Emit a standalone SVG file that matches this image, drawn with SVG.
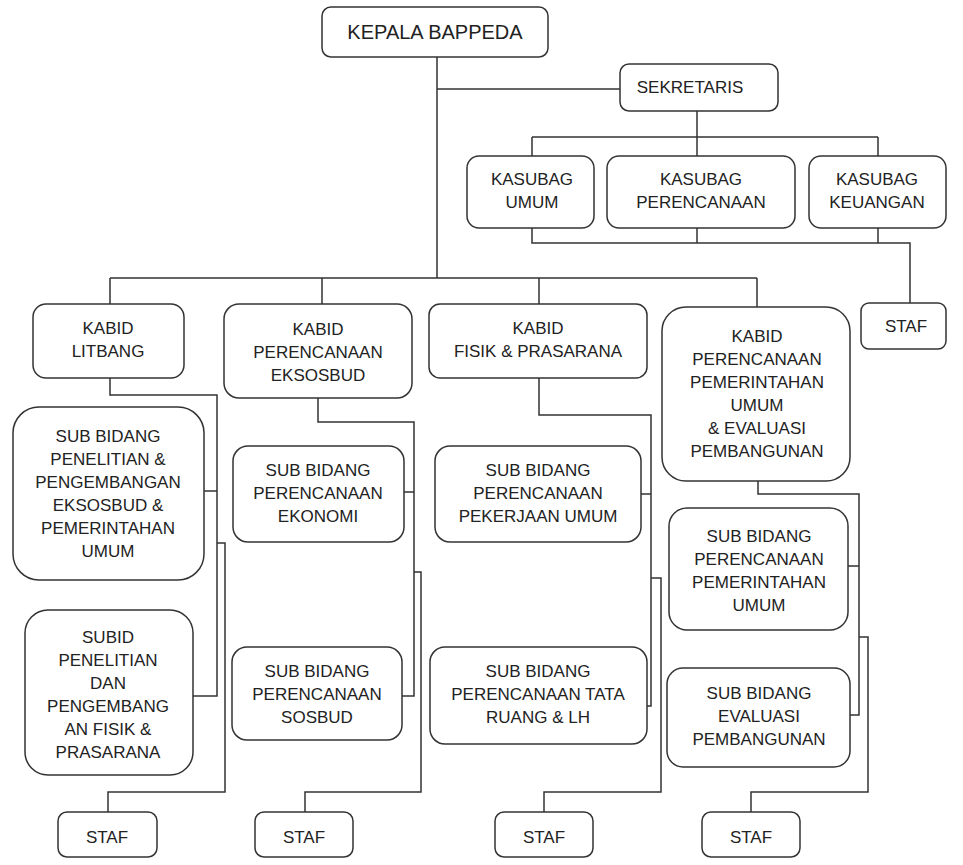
<svg xmlns="http://www.w3.org/2000/svg" width="963" height="865" viewBox="0 0 963 865">
<style>
.b{fill:#fff;stroke:#333;stroke-width:1.5}
.t{font-family:"Liberation Sans",Arial,sans-serif;font-size:17px;fill:#222;text-anchor:middle}
.c{fill:none;stroke:#333;stroke-width:1.5}
</style>
<rect width="963" height="865" fill="#fff"/>
<g id="connectors">
<path class="c" d="M437,57V278M437,89H620M697,111V137M532,137H878M532,137V156M697,137V156M878,137V156"/>
<path class="c" d="M532,228V243H910V303M697,228V243M878,228V243"/>
<path class="c" d="M110,278H757M110,278V304M322,278V304M539,278V304M757,278V307"/>
<path class="c" d="M110,378V395H217V696H193M204,491H217M217,543H225V792H108V812"/>
<path class="c" d="M318,398V422H414V696H402M404,492H414M414,572H421V792H305V812"/>
<path class="c" d="M539,378V415H651V706H647M641,494H651M651,578H661V792H544V812"/>
<path class="c" d="M758,481V494H859V715H850M848,566H859M859,637H868V792H751V812"/>
</g>
<g id="kepala"><rect class="b" x="322" y="7" width="226" height="50" rx="9"/><text class="t" x="435" y="39" style="font-size:20px">KEPALA BAPPEDA</text></g>
<g id="sekretaris"><rect class="b" x="620" y="64" width="158" height="47" rx="9"/><text class="t" x="690" y="93">SEKRETARIS</text></g>
<g id="kasubag-umum"><rect class="b" x="467" y="156" width="127" height="72" rx="12"/><text class="t" x="532" y="185">KASUBAG</text><text class="t" x="532" y="208">UMUM</text></g>
<g id="kasubag-perencanaan"><rect class="b" x="607" y="156" width="188" height="72" rx="12"/><text class="t" x="701" y="185">KASUBAG</text><text class="t" x="701" y="208">PERENCANAAN</text></g>
<g id="kasubag-keuangan"><rect class="b" x="809" y="156" width="137" height="72" rx="12"/><text class="t" x="877" y="185">KASUBAG</text><text class="t" x="877" y="208">KEUANGAN</text></g>
<g id="staf-sek"><rect class="b" x="861" y="303" width="85" height="46" rx="8"/><text class="t" x="906" y="332">STAF</text></g>
<g id="kabid-litbang"><rect class="b" x="33" y="304" width="151" height="74" rx="13"/><text class="t" x="108" y="334">KABID</text><text class="t" x="108" y="357">LITBANG</text></g>
<g id="kabid-eksosbud"><rect class="b" x="224" y="304" width="188" height="94" rx="15"/><text class="t" x="318" y="335">KABID</text><text class="t" x="318" y="358">PERENCANAAN</text><text class="t" x="318" y="381">EKSOSBUD</text></g>
<g id="kabid-fisik"><rect class="b" x="429" y="304" width="218" height="74" rx="11"/><text class="t" x="538" y="334">KABID</text><text class="t" x="538" y="357">FISIK &amp; PRASARANA</text></g>
<g id="kabid-pemerintahan"><rect class="b" x="662" y="307" width="188" height="174" rx="24"/><text class="t" x="757" y="342">KABID</text><text class="t" x="757" y="365">PERENCANAAN</text><text class="t" x="757" y="388">PEMERINTAHAN</text><text class="t" x="757" y="411">UMUM</text><text class="t" x="757" y="434">&amp; EVALUASI</text><text class="t" x="757" y="457">PEMBANGUNAN</text></g>
<g id="sub-penelitian"><rect class="b" x="13" y="407" width="191" height="173" rx="26"/><text class="t" x="108" y="442">SUB BIDANG</text><text class="t" x="108" y="465">PENELITIAN &amp;</text><text class="t" x="108" y="488">PENGEMBANGAN</text><text class="t" x="108" y="511">EKSOSBUD &amp;</text><text class="t" x="108" y="534">PEMERINTAHAN</text><text class="t" x="108" y="557">UMUM</text></g>
<g id="subid-fisik"><rect class="b" x="25" y="610" width="168" height="165" rx="23"/><text class="t" x="108" y="643">SUBID</text><text class="t" x="108" y="666">PENELITIAN</text><text class="t" x="108" y="689">DAN</text><text class="t" x="108" y="712">PENGEMBANG</text><text class="t" x="108" y="735">AN FISIK &amp;</text><text class="t" x="108" y="758">PRASARANA</text></g>
<g id="sub-ekonomi"><rect class="b" x="233" y="446" width="171" height="96" rx="15"/><text class="t" x="318" y="476">SUB BIDANG</text><text class="t" x="318" y="499">PERENCANAAN</text><text class="t" x="318" y="522">EKONOMI</text></g>
<g id="sub-sosbud"><rect class="b" x="232" y="647" width="170" height="93" rx="15"/><text class="t" x="317" y="677">SUB BIDANG</text><text class="t" x="317" y="700">PERENCANAAN</text><text class="t" x="317" y="723">SOSBUD</text></g>
<g id="sub-pu"><rect class="b" x="435" y="446" width="206" height="96" rx="15"/><text class="t" x="538" y="476">SUB BIDANG</text><text class="t" x="538" y="499">PERENCANAAN</text><text class="t" x="538" y="522">PEKERJAAN UMUM</text></g>
<g id="sub-tataruang"><rect class="b" x="430" y="647" width="217" height="97" rx="15"/><text class="t" x="538" y="677">SUB BIDANG</text><text class="t" x="538" y="700">PERENCANAAN TATA</text><text class="t" x="538" y="723">RUANG &amp; LH</text></g>
<g id="sub-pemerintahan"><rect class="b" x="669" y="508" width="179" height="122" rx="18"/><text class="t" x="759" y="542">SUB BIDANG</text><text class="t" x="759" y="565">PERENCANAAN</text><text class="t" x="759" y="588">PEMERINTAHAN</text><text class="t" x="759" y="611">UMUM</text></g>
<g id="sub-evaluasi"><rect class="b" x="667" y="668" width="183" height="99" rx="16"/><text class="t" x="759" y="699">SUB BIDANG</text><text class="t" x="759" y="722">EVALUASI</text><text class="t" x="759" y="745">PEMBANGUNAN</text></g>
<g id="staf1"><rect class="b" x="58" y="812" width="99" height="45" rx="9"/><text class="t" x="107" y="843">STAF</text></g>
<g id="staf2"><rect class="b" x="255" y="812" width="98" height="45" rx="9"/><text class="t" x="304" y="843">STAF</text></g>
<g id="staf3"><rect class="b" x="495" y="812" width="98" height="45" rx="9"/><text class="t" x="544" y="843">STAF</text></g>
<g id="staf4"><rect class="b" x="702" y="812" width="98" height="45" rx="9"/><text class="t" x="751" y="843">STAF</text></g>
</svg>
